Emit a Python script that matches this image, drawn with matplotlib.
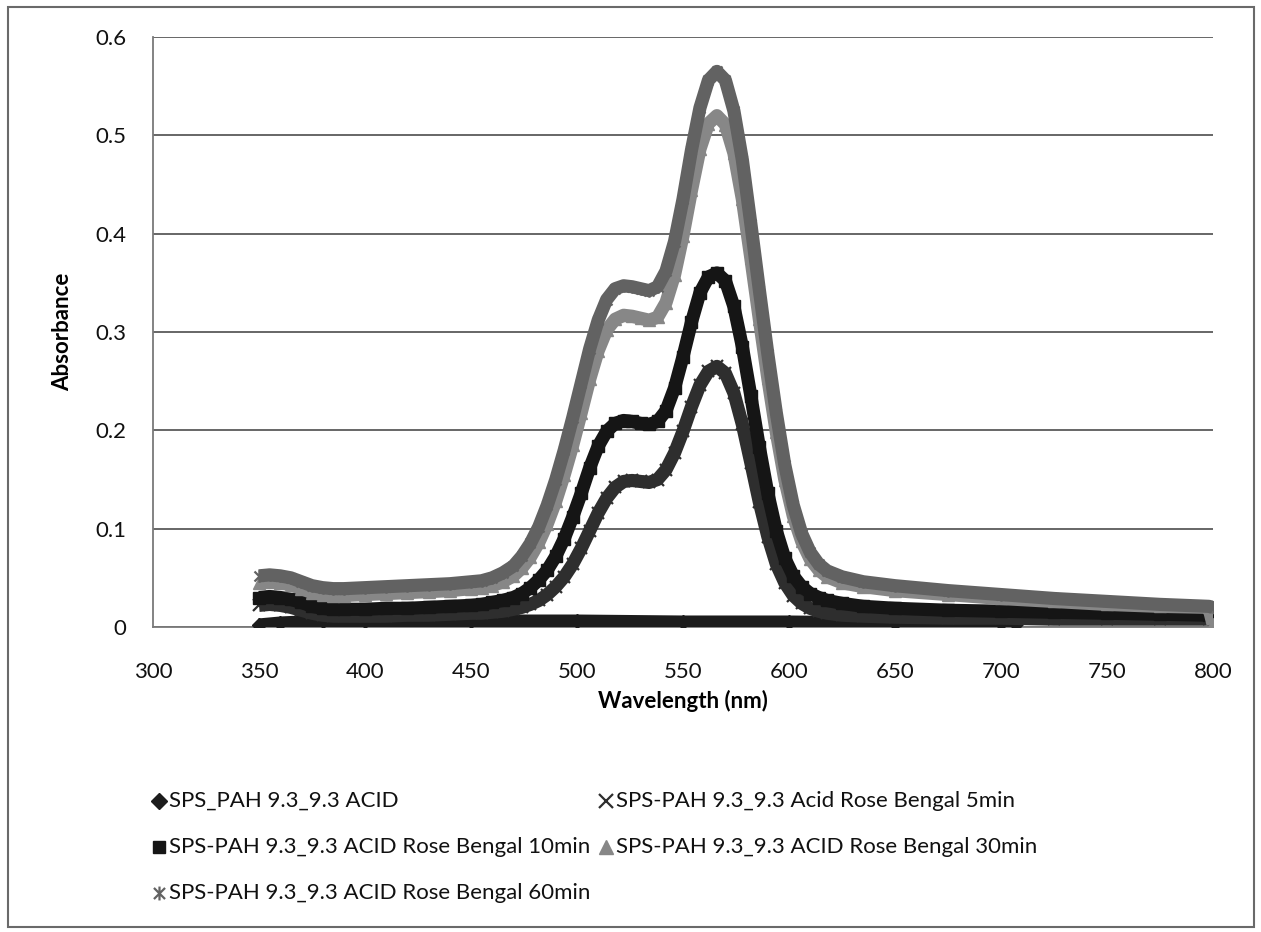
import matplotlib
matplotlib.use("Agg")
import matplotlib.pyplot as plt
from matplotlib.lines import Line2D
from matplotlib.patches import Rectangle
from matplotlib.path import Path

plt.rcParams['font.family'] = ['Lato', 'DejaVu Sans']

# ---------------- data ----------------
wl_acid = [350, 360, 380, 400, 450, 500, 550, 600, 650, 700, 707]
acid = [0.002, 0.004, 0.006, 0.006, 0.006, 0.006, 0.005, 0.005, 0.004, 0.004, 0.003]

wl = [350, 355, 360, 365, 370, 375, 380, 385, 390, 400, 410, 420, 430, 440, 450,
      455, 460, 465, 470, 474, 478, 482, 486, 490, 494, 498, 502, 506, 510, 514,
      518, 522, 526, 530, 534, 538, 542, 546, 550, 554, 558, 562, 566, 570, 574,
      578, 582, 586, 590, 594, 598, 602, 606, 610, 614, 618, 625, 635, 650, 675,
      700, 725, 750, 775, 798, 800]

rb5 = [0.022, 0.023, 0.022, 0.020, 0.017, 0.014, 0.012, 0.011, 0.011, 0.011, 0.011, 0.012, 0.012, 0.013, 0.014,
       0.014, 0.015, 0.016, 0.018, 0.020, 0.023, 0.027, 0.033, 0.041, 0.051, 0.064, 0.080, 0.098, 0.116, 0.131,
       0.142, 0.148, 0.149, 0.148, 0.147, 0.150, 0.160, 0.177, 0.199, 0.224, 0.246, 0.260, 0.265, 0.258, 0.238,
       0.206, 0.167, 0.127, 0.092, 0.064, 0.045, 0.032, 0.024, 0.019, 0.016, 0.014, 0.012, 0.011, 0.010, 0.009,
       0.009, 0.008, 0.008, 0.008, 0.008, 0.008]

rb10 = [0.030, 0.031, 0.030, 0.028, 0.025, 0.021, 0.019, 0.018, 0.018, 0.018, 0.019, 0.019, 0.020, 0.021, 0.022,
        0.023, 0.025, 0.027, 0.030, 0.034, 0.040, 0.048, 0.058, 0.072, 0.090, 0.112, 0.136, 0.162, 0.184, 0.199,
        0.207, 0.210, 0.209, 0.207, 0.206, 0.209, 0.220, 0.243, 0.275, 0.310, 0.340, 0.356, 0.360, 0.352, 0.326,
        0.285, 0.235, 0.183, 0.136, 0.098, 0.070, 0.052, 0.041, 0.034, 0.030, 0.027, 0.024, 0.021, 0.019, 0.017,
        0.016, 0.015, 0.014, 0.013, 0.012, 0.012]

rb30 = [0.045, 0.046, 0.045, 0.043, 0.039, 0.035, 0.033, 0.032, 0.032, 0.033, 0.034, 0.035, 0.036, 0.037, 0.039,
        0.040, 0.042, 0.046, 0.052, 0.060, 0.071, 0.086, 0.105, 0.128, 0.155, 0.185, 0.218, 0.252, 0.281, 0.302,
        0.313, 0.317, 0.316, 0.314, 0.312, 0.315, 0.330, 0.358, 0.398, 0.444, 0.486, 0.512, 0.520, 0.511, 0.482,
        0.435, 0.375, 0.313, 0.253, 0.198, 0.150, 0.113, 0.087, 0.069, 0.058, 0.051, 0.045, 0.041, 0.037, 0.033,
        0.029, 0.026, 0.023, 0.021, 0.020, 0.003]

rb60 = [0.052, 0.053, 0.052, 0.050, 0.046, 0.042, 0.040, 0.039, 0.039, 0.040, 0.041, 0.042, 0.043, 0.044, 0.046,
        0.047, 0.050, 0.055, 0.062, 0.072, 0.085, 0.102, 0.124, 0.150, 0.180, 0.213, 0.248, 0.283, 0.312, 0.333,
        0.344, 0.347, 0.346, 0.344, 0.342, 0.346, 0.362, 0.392, 0.435, 0.485, 0.528, 0.556, 0.565, 0.556, 0.525,
        0.475, 0.410, 0.343, 0.278, 0.218, 0.165, 0.124, 0.095, 0.076, 0.064, 0.057, 0.051, 0.046, 0.042, 0.037,
        0.033, 0.029, 0.026, 0.023, 0.021, 0.020]

labels = ["SPS_PAH 9.3_9.3 ACID",
          "SPS-PAH 9.3_9.3 Acid Rose Bengal 5min",
          "SPS-PAH 9.3_9.3 ACID Rose Bengal 10min",
          "SPS-PAH 9.3_9.3 ACID Rose Bengal 30min",
          "SPS-PAH 9.3_9.3 ACID Rose Bengal 60min"]

x_ticks = [300, 350, 400, 450, 500, 550, 600, 650, 700, 750, 800]
y_ticks = [0, 0.1, 0.2, 0.3, 0.4, 0.5, 0.6]
y_ticklabels = ["0", "0.1", "0.2", "0.3", "0.4", "0.5", "0.6"]

# ---------------- style ----------------
star = Path([(0, -1), (0, 1), (-0.8, -0.8), (0.8, 0.8), (-0.8, 0.8), (0.8, -0.8)],
            [Path.MOVETO, Path.LINETO, Path.MOVETO, Path.LINETO, Path.MOVETO, Path.LINETO])

W, H = 1261, 932
fig = plt.figure(figsize=(W / 100, H / 100), dpi=100)
ax = fig.add_axes([153 / W, 1 - 627 / H, (1213 - 153) / W, (627 - 37) / H])

# (x, y, marker, colour, markersize, edge width)
series = [
    (wl_acid, acid, 'D', '#1c1c1c', 7, 1.0),
    (wl, rb5, 'x', '#2e2e2e', 9, 1.6),
    (wl, rb10, 's', '#151515', 8, 1.0),
    (wl, rb30, '^', '#878787', 9, 1.0),
    (wl, rb60, star, '#626262', 9, 1.6),
]

for i, (xs, ys, mk, col, ms, mew) in enumerate(series):
    ax.plot(xs, ys, '-', color=col, lw=9.5, solid_capstyle='butt',
            solid_joinstyle='round', zorder=3 + i)
    ax.plot(xs, ys, linestyle='none', marker=mk, color=col, markersize=ms,
            markeredgewidth=mew, zorder=3 + i)

ax.set_xlim(300, 800)
ax.set_ylim(0, 0.6)
ax.set_xticks(x_ticks)
ax.set_xticklabels([str(v) for v in x_ticks])
ax.set_yticks(y_ticks)
ax.set_yticklabels(y_ticklabels)
ax.tick_params(axis='both', length=0, labelsize=16, colors='#111111')
ax.tick_params(axis='x', pad=25)
ax.tick_params(axis='y', pad=19)
ax.grid(axis='y', color='#5a5a5a', lw=1.3, zorder=1)
ax.set_axisbelow(True)
for s in ['top', 'right']:
    ax.spines[s].set_visible(False)
for s in ['left', 'bottom']:
    ax.spines[s].set_color('#7a7a7a')
    ax.spines[s].set_linewidth(1.3)
    ax.spines[s].set_zorder(2)

ax.set_xlabel("Wavelength (nm)", fontsize=16, fontweight='bold', labelpad=6)
ax.set_ylabel("Absorbance", fontsize=16, fontweight='bold', labelpad=16)

# ---------------- legend (drawn by hand) ----------------
leg = [
    (159, 801, 0), (606, 801, 1),
    (159, 847, 2), (606, 847, 3),
    (159, 893, 4),
]
for (px, py, k) in leg:
    xs, ys, mk, col, ms, mew = series[k]
    fx, fy = px / W, 1 - py / H
    fig.add_artist(Line2D([fx], [fy], transform=fig.transFigure, marker=mk,
                          color=col, markersize=ms + 1, markeredgewidth=mew,
                          linestyle='none'))
    fig.text(fx + 10 / W, fy, labels[k], fontsize=16, va='center', ha='left',
             color='#111111')

fig.add_artist(Rectangle((8 / W, 1 - 927 / H), (1254 - 8) / W, (927 - 7) / H,
                         transform=fig.transFigure, fill=False,
                         edgecolor='#6a6a6a', lw=1.5))

fig.savefig("out.png", dpi=100)
